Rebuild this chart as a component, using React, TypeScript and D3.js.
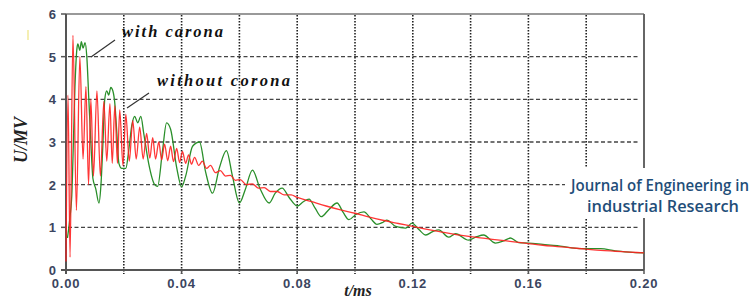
import React from "react";
import { scaleLinear, line, curveMonotoneX } from "d3";

// U/MV vs t/ms
const withoutCorona: [number, number][] = [
  [0, 0.2], [0.0007, 4.1], [0.0014, 0.3], [0.0024, 5.5], [0.0036, 1.4], [0.0048, 5.0],
  [0.0059, 2.6], [0.0069, 4.3], [0.0078, 2.0], [0.0086, 4.0], [0.0095, 2.2], [0.0107, 4.2],
  [0.0119, 2.2], [0.0131, 3.95], [0.0141, 2.55], [0.0152, 3.9], [0.016, 2.5], [0.0169, 3.85],
  [0.0178, 2.5], [0.0186, 3.75], [0.0197, 2.45], [0.0207, 3.65], [0.0219, 2.55], [0.0231, 3.5],
  [0.0243, 2.6], [0.0255, 3.35], [0.0267, 2.6], [0.0279, 3.2], [0.029, 2.62], [0.03, 3.1],
  [0.031, 2.6], [0.0321, 3.0], [0.0331, 2.58], [0.0341, 2.95], [0.0352, 2.56], [0.0362, 2.9],
  [0.0372, 2.54], [0.0383, 2.85], [0.0393, 2.52], [0.0403, 2.78], [0.0414, 2.5], [0.0424, 2.7],
  [0.0434, 2.48], [0.0445, 2.64], [0.0459, 2.45], [0.0472, 2.55], [0.0486, 2.38], [0.05, 2.45],
  [0.0517, 2.28], [0.0534, 2.33], [0.0552, 2.2], [0.0569, 2.22], [0.0586, 2.1], [0.0603, 2.12],
  [0.0624, 2.0], [0.0645, 2.02], [0.0666, 1.92], [0.0686, 1.93], [0.0707, 1.84], [0.0731, 1.84],
  [0.0755, 1.76], [0.0779, 1.76], [0.08, 1.7], [0.085, 1.6], [0.09, 1.5], [0.095, 1.41],
  [0.1, 1.33], [0.105, 1.24], [0.11, 1.16], [0.115, 1.09], [0.12, 1.02], [0.125, 0.95],
  [0.13, 0.89], [0.135, 0.83], [0.14, 0.78], [0.145, 0.74], [0.15, 0.7], [0.155, 0.66],
  [0.16, 0.62], [0.165, 0.58], [0.17, 0.55], [0.175, 0.52], [0.18, 0.49], [0.185, 0.46],
  [0.19, 0.44], [0.195, 0.42], [0.2, 0.4],
];

const withCorona: [number, number][] = [
  [0.0005, 0.75], [0.0014, 1.25], [0.0021, 1.9], [0.0024, 2.6], [0.0031, 4.3], [0.0038, 5.2],
  [0.0041, 5.3], [0.0048, 5.15], [0.0053, 5.35], [0.0059, 5.2], [0.0066, 5.33], [0.0072, 5.0],
  [0.0079, 4.0], [0.0086, 3.0], [0.0093, 2.15], [0.0103, 1.9], [0.0114, 1.57], [0.0121, 2.0],
  [0.0128, 3.0], [0.0134, 4.0], [0.0141, 4.2], [0.0148, 4.1], [0.0155, 4.28], [0.0162, 4.2],
  [0.0169, 3.9], [0.0176, 3.2], [0.0183, 2.5], [0.0193, 2.38], [0.0207, 2.38], [0.0217, 2.8],
  [0.0228, 3.4], [0.0238, 3.6], [0.0248, 3.45], [0.0259, 3.6], [0.0269, 3.2], [0.0286, 2.5],
  [0.0307, 2.0], [0.0317, 1.96], [0.0334, 2.8], [0.0348, 3.45], [0.0362, 3.3], [0.0383, 2.4],
  [0.04, 1.95], [0.0414, 2.2], [0.0438, 2.9], [0.0462, 3.0], [0.0483, 2.3], [0.0507, 1.8],
  [0.0531, 2.4], [0.0555, 2.8], [0.0576, 2.2], [0.06, 1.57], [0.0621, 1.9], [0.0645, 2.34],
  [0.0672, 1.9], [0.0703, 1.57], [0.0724, 1.8], [0.0748, 1.92], [0.0772, 1.7], [0.08, 1.5],
  [0.0821, 1.6], [0.0841, 1.66], [0.0862, 1.45], [0.0883, 1.25], [0.091, 1.42], [0.0938, 1.57],
  [0.0959, 1.35], [0.0979, 1.18], [0.1003, 1.3], [0.1031, 1.36], [0.1055, 1.2], [0.1076, 1.07],
  [0.1097, 1.12], [0.111, 1.17], [0.1141, 1.02], [0.1176, 0.98], [0.1197, 1.1], [0.1221, 0.95],
  [0.1245, 0.82], [0.1269, 0.9], [0.129, 0.94], [0.1324, 0.77], [0.1348, 0.85], [0.1393, 0.7],
  [0.1421, 0.78], [0.1445, 0.82], [0.1486, 0.63], [0.1514, 0.68], [0.1538, 0.75], [0.1566, 0.64],
  [0.16, 0.63], [0.165, 0.6], [0.17, 0.57], [0.175, 0.52], [0.18, 0.5], [0.185, 0.5],
  [0.19, 0.45], [0.195, 0.42], [0.2, 0.4],
];

const xTickLabels = ["0.00", "0.04", "0.08", "0.12", "0.16", "0.20"];
const xGrid = [0.02, 0.04, 0.06, 0.08, 0.1, 0.12, 0.14, 0.16, 0.18];
const yTicks = [0, 1, 2, 3, 4, 5, 6];

const W = 755, H = 298;
const left = 66, right = 644, top = 14, bottom = 270;

export default function App() {
  const x = scaleLinear().domain([0, 0.2]).range([left, right]);
  const y = scaleLinear().domain([0, 6]).range([bottom, top]);

  const path = line<[number, number]>()
    .x(d => x(d[0]))
    .y(d => y(d[1]))
    .curve(curveMonotoneX);

  const serifLabel = { fontFamily: "'Liberation Serif', 'DejaVu Serif', serif", fontStyle: "italic", fontWeight: "bold" as const };
  const tickFont = { fontFamily: "'Liberation Sans', Arial, sans-serif", fontSize: 13, fill: "#3b4560" };
  const wmFont = { fontFamily: "'Open Sans', 'Noto Sans', sans-serif", fontSize: 15.5, fontWeight: 600, fill: "#1f4e79" };

  return (
    <svg width={W} height={H} style={{ position: "absolute", left: 0, top: 0, background: "#fff" }}>
      <rect x={0} y={0} width={W} height={H} fill="#fff" />
      {/* faint yellow mark */}
      <line x1={28} y1={30} x2={28} y2={40} stroke="#f2ea9a" strokeWidth={1.5} />

      {/* grid */}
      {yTicks.slice(1, 6).map(v => (
        <line key={"h" + v} x1={left + 2} x2={right - 4} y1={y(v)} y2={y(v)}
          stroke="#444" strokeWidth={1.3} strokeDasharray="4,2.5" />
      ))}
      {xGrid.map(v => (
        <line key={"v" + v} x1={x(v)} x2={x(v)} y1={top + 1} y2={bottom + 4}
          stroke="#222" strokeWidth={1.6} strokeDasharray="1.4,1.6" />
      ))}

      {/* frame */}
      <line x1={left} x2={right} y1={top} y2={top} stroke="#777" strokeWidth={1.5} />
      <line x1={right} x2={right} y1={top} y2={bottom} stroke="#666" strokeWidth={2} />
      <line x1={left} x2={left} y1={top} y2={bottom + 4} stroke="#555" strokeWidth={2} />
      <line x1={left - 5} x2={right} y1={bottom} y2={bottom} stroke="#555" strokeWidth={2} />
      {yTicks.map(v => (
        <line key={"yt" + v} x1={left - 5} x2={left} y1={y(v)} y2={y(v)} stroke="#555" strokeWidth={1.5} />
      ))}
      {xTickLabels.map(l => (
        <line key={"xt" + l} x1={x(+l)} x2={x(+l)} y1={bottom} y2={bottom + 4} stroke="#555" strokeWidth={1.5} />
      ))}

      {/* curves */}
      <path d={path(withCorona) || ""} fill="none" stroke="#2a8f2a" strokeWidth={1.3} />
      <path d={path(withoutCorona) || ""} fill="none" stroke="#ff2020" strokeWidth={1.3} strokeOpacity={0.9} />

      {/* tick labels */}
      {yTicks.map(v => (
        <text key={"yl" + v} x={56} y={y(v) + 5} textAnchor="end" fontWeight="bold" {...tickFont}>{v}</text>
      ))}
      {xTickLabels.map(l => (
        <text key={"xl" + l} x={x(+l)} y={288} textAnchor="middle" fontWeight="bold" letterSpacing={0.8} {...tickFont}>{l}</text>
      ))}

      {/* axis titles */}
      <text transform="translate(27,140) rotate(-90)" textAnchor="middle" fontSize={18} fill="#222" {...serifLabel}>U/MV</text>
      <text x={358} y={296} textAnchor="middle" fontSize={16} fill="#222" {...serifLabel}>t/ms</text>

      {/* annotations */}
      <text x={122} y={37} fontSize={16.5} fill="#111" textLength={101} lengthAdjust="spacing" {...serifLabel}>with carona</text>
      <line x1={115} y1={40} x2={91} y2={57} stroke="#333" strokeWidth={1.2} />
      <text x={157} y={86} fontSize={16.5} fill="#111" textLength={133} lengthAdjust="spacing" {...serifLabel}>without corona</text>
      <line x1={149} y1={93} x2={127} y2={108} stroke="#333" strokeWidth={1.2} />

      {/* watermark */}
      <rect x={565} y={168} width={190} height={50} fill="#fff" />
      <text x={571} y={191} textLength={178} lengthAdjust="spacingAndGlyphs" {...wmFont}>Journal of Engineering in</text>
      <text x={587} y={212} textLength={152} lengthAdjust="spacingAndGlyphs" {...wmFont}>industrial Research</text>
    </svg>
  );
}
